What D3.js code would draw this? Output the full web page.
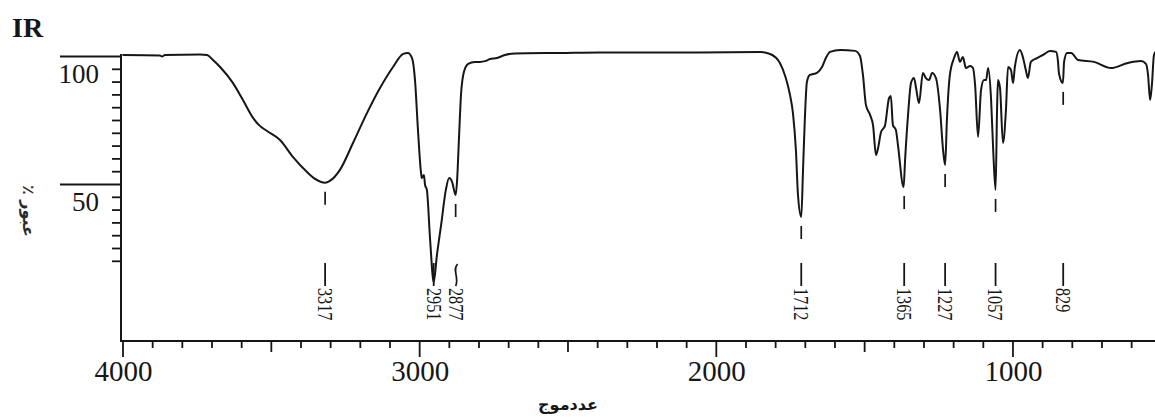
<!DOCTYPE html>
<html>
<head>
<meta charset="utf-8">
<script src="https://cdn.jsdelivr.net/npm/d3@7"></script>
<style>
  html, body { margin: 0; padding: 0; background: #fff; }
  svg { display: block; }
</style>
</head>
<body>
<svg id="chart" width="1155" height="417"></svg>
<script>
// ---- data ----
const wavenumbers = [4000,3874,3867,3857,3739,3715,3695,3671,3628,3594,3560,3537,3513,3469,3425,3378,3351,3317,3301,3267,3223,3176,3132,3088,3054,3038,3024,3014,3004,2994,2991,2984,2980,2974,2963,2951,2940,2926,2910,2899,2889,2877,2872,2866,2859,2849,2835,2812,2795,2778,2761,2738,2711,2677,2525,2390,2053,1851,1817,1784,1764,1750,1740,1730,1723,1712,1706,1700,1693,1683,1659,1642,1629,1615,1581,1531,1514,1504,1494,1480,1470,1460,1453,1443,1430,1416,1410,1403,1393,1386,1367,1362,1352,1342,1332,1325,1315,1302,1292,1281,1271,1258,1244,1234,1227,1221,1211,1197,1187,1177,1167,1157,1143,1133,1126,1116,1106,1096,1089,1082,1072,1065,1057,1052,1049,1042,1032,1022,1015,1005,998,992,975,965,955,948,938,917,897,874,853,847,843,830,826,816,802,779,725,668,611,567,550,543,536,530,523,513];
const transmittance = [100.4,100.2,99.8,100.4,100.6,100.4,98.4,95.7,89.5,82.8,75.8,72.7,70.7,67.2,60.5,54.7,52.0,50.5,51.2,55.5,66.0,77.7,87.5,95.7,100.8,101.2,99.2,90.6,71.1,54.7,52.3,53.5,49.6,47.7,28.1,11.7,22.3,34.0,47.7,52.3,50.8,45.7,51.6,67.2,84.8,93.8,96.9,97.7,97.7,98.0,98.8,99.2,100.4,101.0,101.2,101.4,101.4,101.6,100.8,97.3,91.4,84.8,77.7,63.3,45.7,37.1,55.5,75.0,89.8,92.6,93.4,95.7,99.2,101.6,102.3,102.0,100.0,92.6,80.9,77.0,73.0,61.3,64.1,70.3,72.7,83.6,84.4,73.0,71.1,65.2,48.8,59.4,77.0,89.5,91.4,87.5,81.6,93.4,91.4,90.6,93.4,91.4,78.9,63.3,57.4,75.0,92.6,99.2,101.6,97.7,99.6,95.3,96.1,95.3,88.7,68.4,86.7,90.6,90.6,95.3,82.8,63.3,47.7,78.9,90.6,87.5,66.0,78.9,95.7,94.5,89.5,95.7,102.3,99.6,94.5,91.4,97.7,99.2,100.4,102.0,101.6,98.4,93.0,89.5,97.7,101.2,101.2,98.4,97.7,95.3,97.3,98.0,96.9,92.6,82.8,88.7,100.4,102.3];

const peakWavenumbers = [3317, 2951, 2877, 1712, 1365, 1227, 1057, 829];
const peakLabels = ["3317", "2951", "2877", "1712", "1365", "1227", "1057", "829"];
const peakMinima = [50.5, 11.7, 45.7, 37.1, 48.8, 57.4, 47.7, 89.5];
const peakHasMark = [true, false, true, true, true, true, true, true];

const yTickValues = d3.range(20, 101, 5);
const yLabelValues = [100, 50];
const xTickValues = d3.range(4000, 499, -100);
const xLabelValues = [4000, 3000, 2000, 1000];

const titleText = "IR";
const xTitle = "عددموج";
const yTitle = "٪ عبور";

// ---- layout ----
const svg = d3.select("#chart");
const ink = "#161616";
const axisY = 341;
const x = d3.scaleLinear().domain([4000, 500]).range([122.5, 1160.8]);
const y = d3.scaleLinear().domain([0, 100]).range([312, 56]);
const serif = "'Liberation Serif', 'Times New Roman', serif";

// title
svg.append("text").attr("x", 12).attr("y", 37)
  .attr("font-family", serif).attr("font-weight", "bold").attr("font-size", 28)
  .attr("fill", ink).text(titleText);

// y axis
const yAxisG = svg.append("g").attr("transform", "translate(121,0)")
  .call(d3.axisLeft(y).tickValues(yTickValues).tickSize(9).tickSizeOuter(0).tickFormat(""));
yAxisG.select(".domain").remove();
yAxisG.selectAll(".tick line")
  .attr("stroke", ink).attr("stroke-width", 1.8)
  .attr("x2", d => yLabelValues.includes(d) ? -61 : -9);
svg.append("line").attr("x1", 121).attr("x2", 121)
  .attr("y1", y(100) - 2).attr("y2", axisY + 1)
  .attr("stroke", ink).attr("stroke-width", 2);
svg.selectAll(".ylab").data(yLabelValues).join("text")
  .attr("class", "ylab")
  .attr("x", 99).attr("y", d => y(d) + 27)
  .attr("text-anchor", "end")
  .attr("font-family", serif).attr("font-size", 27).attr("fill", ink)
  .text(d => d);

// x axis
const xAxisG = svg.append("g").attr("transform", `translate(0,${axisY})`)
  .call(d3.axisBottom(x).tickValues(xTickValues).tickSizeOuter(0).tickFormat(""));
xAxisG.select(".domain").remove();
xAxisG.selectAll(".tick line")
  .attr("stroke", ink).attr("stroke-width", 1.8)
  .attr("y2", d => d % 1000 === 0 ? 16 : (d % 500 === 0 ? 11 : 7));
svg.append("line").attr("x1", 120).attr("x2", 1155)
  .attr("y1", axisY).attr("y2", axisY)
  .attr("stroke", ink).attr("stroke-width", 2);
svg.selectAll(".xlab").data(xLabelValues).join("text")
  .attr("class", "xlab")
  .attr("x", d => x(d) + 1).attr("y", axisY + 40)
  .attr("text-anchor", "middle")
  .attr("font-family", serif).attr("font-size", 29).attr("fill", ink)
  .text(d => d);

// axis titles
svg.append("text").attr("x", 568).attr("y", 410)
  .attr("text-anchor", "middle")
  .attr("font-family", "'DejaVu Sans', sans-serif").attr("font-weight", "bold")
  .attr("font-size", 16).attr("fill", ink).text(xTitle);
svg.append("text")
  .attr("transform", "translate(29,211) rotate(90)")
  .attr("text-anchor", "middle").attr("dy", "0.35em")
  .attr("font-family", "'DejaVu Sans', sans-serif").attr("font-weight", "bold")
  .attr("font-size", 16).attr("fill", "#2a2a2a").text(yTitle);

// spectrum
const pts = wavenumbers.map((w, i) => [w, transmittance[i]]);
const line = d3.line().x(d => x(d[0])).y(d => y(d[1])).curve(d3.curveMonotoneX);
svg.append("path").datum(pts)
  .attr("d", line).attr("fill", "none")
  .attr("stroke", ink).attr("stroke-width", 2).attr("stroke-linejoin", "round");

// peak marks under minima and rotated labels
peakWavenumbers.forEach((w, i) => {
  const px = x(w);
  if (peakHasMark[i]) {
    svg.append("line")
      .attr("x1", px).attr("x2", px)
      .attr("y1", y(peakMinima[i]) + 9).attr("y2", y(peakMinima[i]) + 22)
      .attr("stroke", ink).attr("stroke-width", 1.7);
  }
  if (peakLabels[i] === "2877") {
    svg.append("path")
      .attr("d", `M${px + 2},264 C${px - 4},270 ${px + 4},278 ${px},286`)
      .attr("fill", "none").attr("stroke", ink).attr("stroke-width", 1.7);
  } else {
    svg.append("line")
      .attr("x1", px).attr("x2", px)
      .attr("y1", 263).attr("y2", 286)
      .attr("stroke", ink).attr("stroke-width", 1.8);
  }
  svg.append("text")
    .attr("transform", `translate(${px},288) rotate(90)`)
    .attr("dy", "0.34em")
    .attr("font-family", serif).attr("font-size", 21).attr("fill", ink)
    .attr("textLength", peakLabels[i].length * 8.1).attr("lengthAdjust", "spacingAndGlyphs")
    .text(peakLabels[i]);
});
</script>
</body>
</html>
